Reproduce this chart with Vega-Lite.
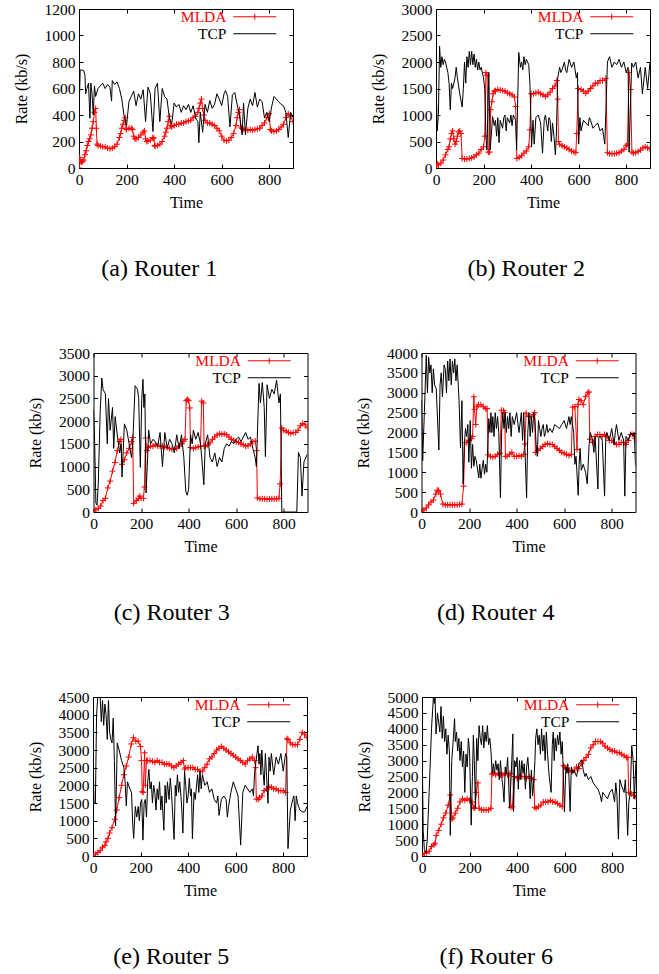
{
"$schema": "https://vega.github.io/schema/vega-lite/v6.json",
"padding": {"left": 12, "top": 1, "right": 0, "bottom": 0},
"background": "white",
"config": {
  "view": {"stroke": "black", "strokeWidth": 1},
  "font": "Liberation Serif",
  "numberFormat": "d",
  "axis": {"labelFont": "Liberation Serif", "labelFontSize": 15.5, "labelColor": "black", "titleFont": "Liberation Serif", "titleFontSize": 16, "titleFontWeight": "normal", "titleColor": "black", "tickColor": "black", "tickSize": -4, "tickWidth": 1, "domain": false, "grid": false, "labelPadding": 8, "labelFlush": false, "labelOverlap": false},
  "axisX": {"titlePadding": 7},
  "axisY": {"titlePadding": 15},
  "legend": {"orient": "none", "legendX": 168, "legendY": 0, "padding": 0, "symbolSize": 100, "symbolStrokeWidth": 1, "labelFont": "Liberation Serif", "labelFontSize": 15.5, "labelAlign": "right", "labelOffset": -36, "rowPadding": -1.5, "labelLimit": 200},
  "title": {"font": "Liberation Serif", "fontSize": 24, "fontWeight": "normal", "orient": "bottom", "frame": "bounds", "anchor": "middle", "offset": 46, "color": "black"}
},
"datasets": {
"aM": [{"t":0,"v":0},{"t":3,"v":80},{"t":5,"v":50},{"t":10,"v":45},{"t":15,"v":50},{"t":20,"v":60},{"t":25,"v":100},{"t":30,"v":130},{"t":35,"v":170},{"t":40,"v":200},{"t":45,"v":220},{"t":50,"v":250},{"t":55,"v":300},{"t":60,"v":350},{"t":65,"v":420},{"t":70,"v":450},{"t":73,"v":300},{"t":76,"v":180},{"t":80,"v":170},{"t":90,"v":165},{"t":100,"v":160},{"t":110,"v":160},{"t":120,"v":150},{"t":130,"v":145},{"t":140,"v":150},{"t":150,"v":160},{"t":160,"v":180},{"t":170,"v":230},{"t":175,"v":260},{"t":180,"v":300},{"t":185,"v":330},{"t":190,"v":360},{"t":195,"v":380},{"t":198,"v":300},{"t":200,"v":290},{"t":210,"v":300},{"t":220,"v":300},{"t":225,"v":290},{"t":230,"v":240},{"t":235,"v":220},{"t":240,"v":220},{"t":250,"v":230},{"t":260,"v":250},{"t":270,"v":270},{"t":275,"v":280},{"t":280,"v":220},{"t":285,"v":200},{"t":290,"v":205},{"t":300,"v":210},{"t":310,"v":230},{"t":315,"v":225},{"t":318,"v":170},{"t":320,"v":165},{"t":330,"v":170},{"t":340,"v":180},{"t":350,"v":200},{"t":360,"v":240},{"t":365,"v":270},{"t":370,"v":300},{"t":375,"v":350},{"t":380,"v":390},{"t":385,"v":320},{"t":390,"v":310},{"t":400,"v":320},{"t":410,"v":330},{"t":420,"v":330},{"t":430,"v":340},{"t":440,"v":340},{"t":450,"v":350},{"t":460,"v":355},{"t":470,"v":360},{"t":480,"v":380},{"t":490,"v":390},{"t":500,"v":420},{"t":505,"v":450},{"t":510,"v":490},{"t":515,"v":520},{"t":520,"v":450},{"t":525,"v":400},{"t":530,"v":360},{"t":540,"v":340},{"t":550,"v":340},{"t":560,"v":330},{"t":570,"v":320},{"t":580,"v":300},{"t":590,"v":280},{"t":600,"v":240},{"t":610,"v":210},{"t":620,"v":205},{"t":630,"v":210},{"t":640,"v":230},{"t":650,"v":260},{"t":660,"v":320},{"t":665,"v":380},{"t":670,"v":420},{"t":675,"v":440},{"t":680,"v":310},{"t":685,"v":300},{"t":690,"v":290},{"t":700,"v":285},{"t":710,"v":285},{"t":720,"v":290},{"t":730,"v":285},{"t":740,"v":290},{"t":750,"v":295},{"t":760,"v":300},{"t":770,"v":320},{"t":780,"v":340},{"t":790,"v":380},{"t":800,"v":410},{"t":805,"v":290},{"t":810,"v":280},{"t":820,"v":275},{"t":830,"v":280},{"t":840,"v":290},{"t":850,"v":310},{"t":860,"v":330},{"t":870,"v":380},{"t":880,"v":410},{"t":890,"v":390},{"t":900,"v":350}],
"aT": [{"t":0,"v":400},{"t":5,"v":740},{"t":10,"v":740},{"t":20,"v":735},{"t":25,"v":700},{"t":28,"v":560},{"t":33,"v":600},{"t":40,"v":640},{"t":46,"v":375},{"t":50,"v":640},{"t":55,"v":560},{"t":60,"v":400},{"t":65,"v":620},{"t":70,"v":540},{"t":80,"v":600},{"t":90,"v":620},{"t":100,"v":640},{"t":110,"v":600},{"t":120,"v":630},{"t":130,"v":610},{"t":137,"v":505},{"t":140,"v":660},{"t":150,"v":630},{"t":160,"v":650},{"t":170,"v":600},{"t":180,"v":520},{"t":189,"v":400},{"t":200,"v":320},{"t":210,"v":500},{"t":220,"v":540},{"t":230,"v":580},{"t":240,"v":470},{"t":250,"v":560},{"t":260,"v":520},{"t":270,"v":590},{"t":280,"v":350},{"t":290,"v":610},{"t":300,"v":560},{"t":311,"v":275},{"t":320,"v":600},{"t":330,"v":640},{"t":340,"v":350},{"t":350,"v":600},{"t":360,"v":540},{"t":370,"v":520},{"t":380,"v":380},{"t":390,"v":330},{"t":400,"v":490},{"t":410,"v":460},{"t":420,"v":480},{"t":430,"v":420},{"t":440,"v":470},{"t":450,"v":440},{"t":460,"v":480},{"t":470,"v":420},{"t":480,"v":470},{"t":490,"v":380},{"t":500,"v":350},{"t":504,"v":190},{"t":510,"v":420},{"t":520,"v":270},{"t":530,"v":480},{"t":540,"v":420},{"t":550,"v":510},{"t":560,"v":450},{"t":570,"v":480},{"t":580,"v":560},{"t":590,"v":520},{"t":600,"v":470},{"t":610,"v":560},{"t":616,"v":585},{"t":625,"v":540},{"t":635,"v":310},{"t":645,"v":550},{"t":655,"v":570},{"t":665,"v":480},{"t":675,"v":400},{"t":686,"v":250},{"t":692,"v":490},{"t":700,"v":250},{"t":710,"v":450},{"t":720,"v":520},{"t":730,"v":470},{"t":740,"v":570},{"t":750,"v":460},{"t":760,"v":520},{"t":770,"v":500},{"t":780,"v":380},{"t":790,"v":420},{"t":800,"v":350},{"t":810,"v":460},{"t":820,"v":540},{"t":830,"v":520},{"t":840,"v":500},{"t":850,"v":480},{"t":860,"v":470},{"t":870,"v":420},{"t":880,"v":230},{"t":890,"v":420},{"t":900,"v":380}],
"bM": [{"t":0,"v":0},{"t":5,"v":80},{"t":10,"v":60},{"t":20,"v":90},{"t":30,"v":150},{"t":40,"v":250},{"t":50,"v":350},{"t":55,"v":400},{"t":60,"v":550},{"t":65,"v":650},{"t":70,"v":700},{"t":75,"v":550},{"t":80,"v":450},{"t":85,"v":500},{"t":90,"v":600},{"t":95,"v":680},{"t":100,"v":700},{"t":105,"v":650},{"t":110,"v":180},{"t":120,"v":170},{"t":130,"v":170},{"t":140,"v":180},{"t":150,"v":190},{"t":160,"v":210},{"t":170,"v":250},{"t":180,"v":280},{"t":190,"v":350},{"t":200,"v":400},{"t":205,"v":600},{"t":210,"v":1800},{"t":215,"v":1750},{"t":220,"v":300},{"t":225,"v":300},{"t":230,"v":1100},{"t":235,"v":1250},{"t":240,"v":1400},{"t":245,"v":1450},{"t":250,"v":1460},{"t":260,"v":1480},{"t":270,"v":1470},{"t":280,"v":1460},{"t":290,"v":1450},{"t":300,"v":1420},{"t":310,"v":1400},{"t":320,"v":1380},{"t":330,"v":1340},{"t":335,"v":1160},{"t":340,"v":180},{"t":350,"v":200},{"t":360,"v":230},{"t":370,"v":280},{"t":380,"v":320},{"t":390,"v":400},{"t":395,"v":720},{"t":400,"v":1400},{"t":410,"v":1400},{"t":420,"v":1420},{"t":430,"v":1430},{"t":440,"v":1400},{"t":450,"v":1380},{"t":460,"v":1350},{"t":470,"v":1380},{"t":480,"v":1430},{"t":490,"v":1500},{"t":500,"v":1550},{"t":508,"v":1650},{"t":512,"v":1300},{"t":515,"v":500},{"t":520,"v":450},{"t":530,"v":420},{"t":540,"v":400},{"t":550,"v":380},{"t":560,"v":350},{"t":570,"v":320},{"t":580,"v":300},{"t":588,"v":290},{"t":592,"v":650},{"t":598,"v":1500},{"t":610,"v":1480},{"t":620,"v":1450},{"t":630,"v":1410},{"t":640,"v":1450},{"t":650,"v":1500},{"t":660,"v":1550},{"t":670,"v":1600},{"t":680,"v":1600},{"t":690,"v":1650},{"t":700,"v":1650},{"t":714,"v":1690},{"t":721,"v":290},{"t":730,"v":270},{"t":740,"v":270},{"t":750,"v":270},{"t":760,"v":280},{"t":770,"v":290},{"t":780,"v":320},{"t":790,"v":350},{"t":800,"v":420},{"t":805,"v":450},{"t":812,"v":1800},{"t":818,"v":1480},{"t":824,"v":300},{"t":830,"v":280},{"t":840,"v":290},{"t":850,"v":310},{"t":860,"v":340},{"t":870,"v":380},{"t":880,"v":400},{"t":890,"v":380},{"t":900,"v":360}],
"bT": [{"t":0,"v":1700},{"t":5,"v":700},{"t":10,"v":1000},{"t":15,"v":2300},{"t":20,"v":1900},{"t":25,"v":2100},{"t":30,"v":1950},{"t":35,"v":2050},{"t":40,"v":2000},{"t":45,"v":1900},{"t":50,"v":1800},{"t":55,"v":1600},{"t":60,"v":1100},{"t":65,"v":1600},{"t":70,"v":1500},{"t":80,"v":1700},{"t":85,"v":1900},{"t":90,"v":1700},{"t":100,"v":1400},{"t":110,"v":1150},{"t":115,"v":1500},{"t":120,"v":2000},{"t":125,"v":1600},{"t":130,"v":2100},{"t":135,"v":1900},{"t":140,"v":2200},{"t":145,"v":1950},{"t":150,"v":2200},{"t":155,"v":1950},{"t":160,"v":2150},{"t":165,"v":1900},{"t":170,"v":2050},{"t":175,"v":1850},{"t":180,"v":2000},{"t":185,"v":1850},{"t":190,"v":1900},{"t":200,"v":1700},{"t":205,"v":1500},{"t":210,"v":600},{"t":214,"v":340},{"t":218,"v":1000},{"t":222,"v":1800},{"t":228,"v":340},{"t":238,"v":970},{"t":245,"v":800},{"t":250,"v":900},{"t":255,"v":600},{"t":260,"v":950},{"t":265,"v":480},{"t":270,"v":900},{"t":280,"v":750},{"t":285,"v":950},{"t":290,"v":1000},{"t":295,"v":700},{"t":300,"v":950},{"t":310,"v":850},{"t":315,"v":1000},{"t":320,"v":800},{"t":325,"v":1000},{"t":330,"v":950},{"t":335,"v":900},{"t":339,"v":340},{"t":348,"v":2180},{"t":355,"v":1900},{"t":360,"v":2000},{"t":365,"v":1850},{"t":370,"v":2100},{"t":375,"v":1950},{"t":380,"v":2050},{"t":390,"v":1950},{"t":395,"v":1600},{"t":402,"v":400},{"t":408,"v":900},{"t":413,"v":450},{"t":420,"v":950},{"t":430,"v":1000},{"t":440,"v":850},{"t":448,"v":280},{"t":455,"v":900},{"t":460,"v":1000},{"t":470,"v":700},{"t":475,"v":950},{"t":480,"v":900},{"t":485,"v":500},{"t":490,"v":850},{"t":496,"v":600},{"t":502,"v":250},{"t":506,"v":600},{"t":512,"v":1700},{"t":520,"v":1900},{"t":525,"v":1800},{"t":530,"v":1850},{"t":540,"v":2000},{"t":545,"v":1850},{"t":550,"v":1800},{"t":560,"v":2050},{"t":570,"v":1900},{"t":580,"v":2000},{"t":585,"v":1850},{"t":590,"v":1700},{"t":595,"v":1800},{"t":600,"v":450},{"t":605,"v":950},{"t":610,"v":700},{"t":620,"v":900},{"t":630,"v":850},{"t":640,"v":800},{"t":645,"v":950},{"t":650,"v":900},{"t":660,"v":750},{"t":670,"v":800},{"t":680,"v":850},{"t":690,"v":700},{"t":700,"v":750},{"t":710,"v":450},{"t":721,"v":2000},{"t":730,"v":2100},{"t":740,"v":1900},{"t":750,"v":2000},{"t":760,"v":1950},{"t":770,"v":2050},{"t":780,"v":1900},{"t":790,"v":2000},{"t":800,"v":1800},{"t":808,"v":1900},{"t":812,"v":300},{"t":823,"v":1980},{"t":830,"v":1900},{"t":840,"v":2000},{"t":850,"v":1700},{"t":860,"v":1900},{"t":868,"v":1400},{"t":880,"v":1900},{"t":890,"v":1500},{"t":900,"v":2000}],
"cM": [{"t":0,"v":0},{"t":10,"v":50},{"t":20,"v":80},{"t":30,"v":130},{"t":40,"v":250},{"t":50,"v":300},{"t":60,"v":530},{"t":70,"v":680},{"t":80,"v":900},{"t":90,"v":1090},{"t":100,"v":1350},{"t":110,"v":1550},{"t":115,"v":1600},{"t":120,"v":1050},{"t":130,"v":1150},{"t":140,"v":1300},{"t":150,"v":1400},{"t":160,"v":1550},{"t":165,"v":1640},{"t":169,"v":190},{"t":180,"v":250},{"t":190,"v":300},{"t":195,"v":350},{"t":200,"v":300},{"t":210,"v":300},{"t":214,"v":550},{"t":219,"v":1630},{"t":225,"v":1350},{"t":230,"v":1420},{"t":240,"v":1450},{"t":250,"v":1450},{"t":260,"v":1480},{"t":270,"v":1450},{"t":280,"v":1450},{"t":290,"v":1450},{"t":300,"v":1430},{"t":310,"v":1420},{"t":320,"v":1400},{"t":330,"v":1380},{"t":340,"v":1380},{"t":350,"v":1400},{"t":360,"v":1450},{"t":370,"v":1500},{"t":380,"v":1560},{"t":385,"v":1600},{"t":390,"v":2450},{"t":395,"v":2480},{"t":400,"v":2450},{"t":405,"v":2290},{"t":408,"v":1420},{"t":420,"v":1400},{"t":430,"v":1420},{"t":440,"v":1430},{"t":450,"v":1450},{"t":455,"v":2440},{"t":462,"v":2400},{"t":465,"v":1450},{"t":470,"v":1450},{"t":480,"v":1480},{"t":490,"v":1520},{"t":500,"v":1600},{"t":510,"v":1650},{"t":520,"v":1700},{"t":530,"v":1720},{"t":540,"v":1710},{"t":550,"v":1720},{"t":560,"v":1700},{"t":570,"v":1650},{"t":580,"v":1600},{"t":590,"v":1580},{"t":600,"v":1550},{"t":610,"v":1530},{"t":620,"v":1500},{"t":630,"v":1480},{"t":640,"v":1450},{"t":650,"v":1460},{"t":660,"v":1500},{"t":670,"v":1550},{"t":680,"v":1560},{"t":686,"v":1350},{"t":689,"v":310},{"t":700,"v":290},{"t":710,"v":290},{"t":720,"v":290},{"t":730,"v":280},{"t":740,"v":290},{"t":750,"v":290},{"t":760,"v":290},{"t":770,"v":290},{"t":780,"v":300},{"t":785,"v":620},{"t":792,"v":1850},{"t":800,"v":1800},{"t":810,"v":1780},{"t":820,"v":1750},{"t":830,"v":1730},{"t":840,"v":1750},{"t":850,"v":1750},{"t":860,"v":1800},{"t":870,"v":1900},{"t":880,"v":1950},{"t":890,"v":1920},{"t":900,"v":1850}],
"cT": [{"t":0,"v":2250},{"t":5,"v":1500},{"t":10,"v":200},{"t":15,"v":150},{"t":20,"v":600},{"t":28,"v":2200},{"t":35,"v":2950},{"t":40,"v":2700},{"t":50,"v":2600},{"t":58,"v":1500},{"t":63,"v":2500},{"t":70,"v":1800},{"t":80,"v":2300},{"t":85,"v":1400},{"t":91,"v":2100},{"t":100,"v":1700},{"t":110,"v":1300},{"t":116,"v":1500},{"t":120,"v":770},{"t":130,"v":1940},{"t":140,"v":1800},{"t":150,"v":1500},{"t":160,"v":1200},{"t":165,"v":1500},{"t":175,"v":2780},{"t":185,"v":2700},{"t":190,"v":2500},{"t":197,"v":980},{"t":203,"v":2500},{"t":208,"v":2920},{"t":212,"v":2300},{"t":216,"v":2600},{"t":221,"v":420},{"t":226,"v":1000},{"t":232,"v":1800},{"t":240,"v":1500},{"t":250,"v":1600},{"t":260,"v":1550},{"t":270,"v":1450},{"t":280,"v":1750},{"t":290,"v":1000},{"t":300,"v":1750},{"t":310,"v":1400},{"t":320,"v":1600},{"t":330,"v":1500},{"t":340,"v":1300},{"t":350,"v":1700},{"t":360,"v":1400},{"t":370,"v":1700},{"t":380,"v":1200},{"t":388,"v":460},{"t":394,"v":370},{"t":400,"v":500},{"t":408,"v":1700},{"t":415,"v":1500},{"t":420,"v":1800},{"t":430,"v":1600},{"t":440,"v":1750},{"t":450,"v":1500},{"t":455,"v":1200},{"t":464,"v":600},{"t":470,"v":1500},{"t":480,"v":1700},{"t":490,"v":1200},{"t":500,"v":1100},{"t":510,"v":1300},{"t":520,"v":1000},{"t":530,"v":1200},{"t":540,"v":1100},{"t":550,"v":1400},{"t":560,"v":1500},{"t":570,"v":1450},{"t":580,"v":1550},{"t":590,"v":1500},{"t":600,"v":1600},{"t":610,"v":1650},{"t":620,"v":1550},{"t":630,"v":1650},{"t":640,"v":1750},{"t":650,"v":1600},{"t":660,"v":1650},{"t":670,"v":1400},{"t":680,"v":1200},{"t":685,"v":1000},{"t":696,"v":2830},{"t":702,"v":2400},{"t":710,"v":2850},{"t":718,"v":2300},{"t":723,"v":1220},{"t":730,"v":2800},{"t":740,"v":2500},{"t":750,"v":2700},{"t":760,"v":2600},{"t":770,"v":2900},{"t":780,"v":2400},{"t":786,"v":2600},{"t":792,"v":0},{"t":800,"v":0},{"t":850,"v":0},{"t":855,"v":0},{"t":862,"v":1310},{"t":870,"v":1200},{"t":877,"v":350},{"t":885,"v":1100},{"t":900,"v":1280}],
"dM": [{"t":0,"v":0},{"t":10,"v":50},{"t":20,"v":100},{"t":30,"v":180},{"t":40,"v":250},{"t":50,"v":300},{"t":60,"v":450},{"t":66,"v":550},{"t":72,"v":540},{"t":80,"v":450},{"t":90,"v":200},{"t":100,"v":180},{"t":110,"v":180},{"t":120,"v":180},{"t":130,"v":180},{"t":140,"v":180},{"t":150,"v":180},{"t":160,"v":190},{"t":170,"v":200},{"t":177,"v":650},{"t":182,"v":1750},{"t":190,"v":1750},{"t":200,"v":1800},{"t":210,"v":1850},{"t":215,"v":1900},{"t":220,"v":2900},{"t":223,"v":2580},{"t":228,"v":2200},{"t":233,"v":2650},{"t":240,"v":2700},{"t":250,"v":2700},{"t":260,"v":2650},{"t":270,"v":2600},{"t":276,"v":2600},{"t":280,"v":1440},{"t":290,"v":1400},{"t":300,"v":1380},{"t":310,"v":1400},{"t":320,"v":1450},{"t":330,"v":1480},{"t":336,"v":2560},{"t":345,"v":2550},{"t":350,"v":2500},{"t":353,"v":1400},{"t":360,"v":1400},{"t":370,"v":1450},{"t":380,"v":1500},{"t":390,"v":1400},{"t":400,"v":1400},{"t":410,"v":1420},{"t":420,"v":1400},{"t":430,"v":1450},{"t":435,"v":1710},{"t":440,"v":2490},{"t":450,"v":2400},{"t":460,"v":2400},{"t":470,"v":2450},{"t":476,"v":2500},{"t":479,"v":1500},{"t":490,"v":1550},{"t":500,"v":1600},{"t":510,"v":1650},{"t":520,"v":1700},{"t":530,"v":1720},{"t":540,"v":1700},{"t":550,"v":1700},{"t":560,"v":1650},{"t":570,"v":1600},{"t":580,"v":1550},{"t":590,"v":1500},{"t":600,"v":1480},{"t":610,"v":1450},{"t":620,"v":1420},{"t":630,"v":1450},{"t":636,"v":2640},{"t":645,"v":2650},{"t":654,"v":1570},{"t":658,"v":2700},{"t":662,"v":2830},{"t":670,"v":2800},{"t":680,"v":2700},{"t":690,"v":2900},{"t":700,"v":3000},{"t":704,"v":3020},{"t":708,"v":1830},{"t":720,"v":1750},{"t":730,"v":1900},{"t":740,"v":1950},{"t":750,"v":1950},{"t":760,"v":1900},{"t":770,"v":1950},{"t":780,"v":1900},{"t":790,"v":1800},{"t":800,"v":1800},{"t":810,"v":1750},{"t":820,"v":1700},{"t":830,"v":1700},{"t":840,"v":1750},{"t":850,"v":1750},{"t":860,"v":1700},{"t":870,"v":1800},{"t":880,"v":1950},{"t":890,"v":1950},{"t":900,"v":1850}],
"dT": [{"t":0,"v":2810},{"t":5,"v":1290},{"t":12,"v":2500},{"t":20,"v":3940},{"t":25,"v":3000},{"t":30,"v":3900},{"t":35,"v":3500},{"t":40,"v":3700},{"t":45,"v":3000},{"t":50,"v":3600},{"t":55,"v":3200},{"t":62,"v":3100},{"t":73,"v":1560},{"t":78,"v":3200},{"t":83,"v":3500},{"t":88,"v":2900},{"t":95,"v":3700},{"t":100,"v":3600},{"t":105,"v":3000},{"t":110,"v":3800},{"t":115,"v":3300},{"t":120,"v":3850},{"t":125,"v":3200},{"t":130,"v":3800},{"t":135,"v":3500},{"t":140,"v":3850},{"t":145,"v":3300},{"t":150,"v":3700},{"t":158,"v":2800},{"t":164,"v":1610},{"t":170,"v":2800},{"t":175,"v":700},{"t":180,"v":1700},{"t":185,"v":2100},{"t":190,"v":1900},{"t":195,"v":2200},{"t":199,"v":1250},{"t":205,"v":2300},{"t":210,"v":1100},{"t":215,"v":1700},{"t":220,"v":1150},{"t":225,"v":1400},{"t":230,"v":1300},{"t":241,"v":860},{"t":245,"v":1200},{"t":250,"v":850},{"t":255,"v":1100},{"t":260,"v":1300},{"t":265,"v":950},{"t":270,"v":1200},{"t":275,"v":1000},{"t":283,"v":2350},{"t":288,"v":2000},{"t":292,"v":2500},{"t":296,"v":2000},{"t":300,"v":2400},{"t":305,"v":1900},{"t":310,"v":2500},{"t":315,"v":2100},{"t":320,"v":2400},{"t":325,"v":2000},{"t":332,"v":360},{"t":337,"v":2000},{"t":342,"v":2500},{"t":347,"v":2100},{"t":352,"v":2500},{"t":357,"v":2000},{"t":362,"v":2400},{"t":367,"v":2100},{"t":372,"v":2500},{"t":377,"v":1900},{"t":382,"v":2400},{"t":390,"v":2200},{"t":400,"v":2500},{"t":410,"v":2000},{"t":420,"v":2500},{"t":425,"v":1800},{"t":430,"v":2500},{"t":435,"v":1600},{"t":442,"v":360},{"t":447,"v":2000},{"t":452,"v":2500},{"t":457,"v":1900},{"t":462,"v":2400},{"t":467,"v":2000},{"t":472,"v":2500},{"t":477,"v":2300},{"t":482,"v":1700},{"t":487,"v":1400},{"t":492,"v":2300},{"t":497,"v":2100},{"t":502,"v":1900},{"t":507,"v":2100},{"t":512,"v":2200},{"t":517,"v":1900},{"t":522,"v":2000},{"t":527,"v":2200},{"t":532,"v":2000},{"t":540,"v":2100},{"t":550,"v":2000},{"t":560,"v":2200},{"t":570,"v":2150},{"t":580,"v":2100},{"t":590,"v":2200},{"t":600,"v":2300},{"t":610,"v":2100},{"t":620,"v":2400},{"t":625,"v":2200},{"t":630,"v":2400},{"t":640,"v":2000},{"t":645,"v":1200},{"t":650,"v":1400},{"t":659,"v":420},{"t":663,"v":1200},{"t":667,"v":1600},{"t":672,"v":1050},{"t":680,"v":1200},{"t":685,"v":1100},{"t":690,"v":1000},{"t":697,"v":710},{"t":705,"v":1700},{"t":710,"v":2000},{"t":720,"v":1800},{"t":725,"v":1500},{"t":730,"v":1900},{"t":742,"v":580},{"t":746,"v":1900},{"t":752,"v":1900},{"t":760,"v":1800},{"t":770,"v":400},{"t":775,"v":1900},{"t":780,"v":2000},{"t":790,"v":1800},{"t":800,"v":2100},{"t":810,"v":1700},{"t":815,"v":2000},{"t":820,"v":2200},{"t":830,"v":1800},{"t":840,"v":2000},{"t":850,"v":1800},{"t":855,"v":400},{"t":860,"v":1900},{"t":870,"v":1800},{"t":880,"v":2000},{"t":890,"v":1900},{"t":895,"v":2000},{"t":900,"v":1160}],
"eM": [{"t":0,"v":0},{"t":10,"v":50},{"t":20,"v":100},{"t":30,"v":150},{"t":40,"v":250},{"t":50,"v":300},{"t":55,"v":400},{"t":63,"v":500},{"t":70,"v":650},{"t":80,"v":800},{"t":91,"v":1040},{"t":100,"v":1300},{"t":110,"v":1650},{"t":120,"v":2000},{"t":130,"v":2300},{"t":140,"v":2550},{"t":150,"v":2800},{"t":161,"v":3170},{"t":170,"v":3350},{"t":180,"v":3250},{"t":190,"v":3250},{"t":200,"v":3100},{"t":204,"v":2700},{"t":207,"v":1820},{"t":211,"v":1800},{"t":217,"v":2920},{"t":220,"v":2000},{"t":225,"v":2700},{"t":230,"v":2700},{"t":240,"v":2700},{"t":250,"v":2680},{"t":260,"v":2650},{"t":270,"v":2700},{"t":280,"v":2650},{"t":290,"v":2650},{"t":300,"v":2600},{"t":310,"v":2600},{"t":320,"v":2600},{"t":330,"v":2550},{"t":340,"v":2500},{"t":350,"v":2550},{"t":360,"v":2600},{"t":370,"v":2650},{"t":380,"v":2700},{"t":385,"v":2460},{"t":390,"v":2500},{"t":400,"v":2500},{"t":410,"v":2500},{"t":420,"v":2500},{"t":430,"v":2450},{"t":440,"v":2450},{"t":450,"v":2400},{"t":460,"v":2400},{"t":470,"v":2500},{"t":480,"v":2600},{"t":490,"v":2750},{"t":500,"v":2800},{"t":510,"v":2900},{"t":520,"v":3000},{"t":530,"v":3050},{"t":540,"v":3100},{"t":550,"v":3050},{"t":560,"v":3000},{"t":570,"v":2950},{"t":580,"v":2900},{"t":590,"v":2850},{"t":600,"v":2800},{"t":610,"v":2750},{"t":620,"v":2700},{"t":630,"v":2650},{"t":640,"v":2600},{"t":650,"v":2700},{"t":660,"v":2750},{"t":670,"v":2800},{"t":680,"v":2700},{"t":684,"v":2500},{"t":687,"v":1610},{"t":695,"v":1600},{"t":700,"v":1650},{"t":710,"v":1700},{"t":720,"v":1850},{"t":730,"v":1900},{"t":740,"v":1950},{"t":750,"v":1950},{"t":760,"v":1900},{"t":770,"v":1900},{"t":780,"v":1850},{"t":790,"v":1850},{"t":800,"v":1850},{"t":810,"v":1800},{"t":816,"v":3320},{"t":820,"v":3300},{"t":830,"v":3200},{"t":840,"v":3150},{"t":850,"v":3150},{"t":860,"v":3150},{"t":870,"v":3300},{"t":880,"v":3500},{"t":890,"v":3450},{"t":900,"v":3350}],
"eT": [{"t":0,"v":3300},{"t":4,"v":1500},{"t":10,"v":1500},{"t":15,"v":4000},{"t":20,"v":4500},{"t":30,"v":4500},{"t":35,"v":3800},{"t":40,"v":4400},{"t":45,"v":3700},{"t":50,"v":4300},{"t":55,"v":4000},{"t":60,"v":3300},{"t":65,"v":4400},{"t":70,"v":3500},{"t":75,"v":3300},{"t":80,"v":3200},{"t":85,"v":3900},{"t":90,"v":2700},{"t":95,"v":850},{"t":102,"v":3200},{"t":110,"v":3000},{"t":120,"v":2700},{"t":130,"v":2500},{"t":135,"v":2100},{"t":140,"v":1420},{"t":145,"v":2100},{"t":155,"v":1900},{"t":162,"v":1800},{"t":167,"v":900},{"t":171,"v":500},{"t":178,"v":1400},{"t":184,"v":1100},{"t":190,"v":1400},{"t":195,"v":1000},{"t":200,"v":1500},{"t":205,"v":1600},{"t":210,"v":450},{"t":215,"v":1500},{"t":220,"v":1600},{"t":225,"v":1100},{"t":230,"v":2100},{"t":235,"v":2450},{"t":240,"v":1900},{"t":245,"v":2100},{"t":250,"v":1500},{"t":255,"v":2000},{"t":260,"v":1800},{"t":265,"v":1300},{"t":270,"v":1900},{"t":275,"v":1600},{"t":280,"v":2100},{"t":285,"v":1300},{"t":290,"v":1700},{"t":298,"v":730},{"t":303,"v":2000},{"t":308,"v":1500},{"t":313,"v":2100},{"t":320,"v":1600},{"t":325,"v":2200},{"t":330,"v":1800},{"t":341,"v":470},{"t":346,"v":2000},{"t":350,"v":1700},{"t":355,"v":2300},{"t":360,"v":1800},{"t":365,"v":2100},{"t":372,"v":1500},{"t":378,"v":650},{"t":385,"v":2400},{"t":390,"v":2000},{"t":395,"v":1500},{"t":400,"v":1700},{"t":405,"v":2200},{"t":410,"v":1700},{"t":414,"v":1900},{"t":418,"v":490},{"t":425,"v":1800},{"t":430,"v":1600},{"t":440,"v":2300},{"t":445,"v":1800},{"t":450,"v":2400},{"t":455,"v":1900},{"t":460,"v":2300},{"t":470,"v":2000},{"t":480,"v":2100},{"t":490,"v":1800},{"t":500,"v":1900},{"t":510,"v":1600},{"t":520,"v":1500},{"t":525,"v":1700},{"t":530,"v":1150},{"t":540,"v":1600},{"t":550,"v":1700},{"t":560,"v":1600},{"t":565,"v":1100},{"t":570,"v":1400},{"t":580,"v":1800},{"t":590,"v":2100},{"t":600,"v":1900},{"t":610,"v":1700},{"t":621,"v":310},{"t":630,"v":1800},{"t":640,"v":2000},{"t":650,"v":1900},{"t":660,"v":1800},{"t":670,"v":1900},{"t":675,"v":1700},{"t":680,"v":2400},{"t":694,"v":3120},{"t":698,"v":2600},{"t":702,"v":2900},{"t":706,"v":2300},{"t":710,"v":3000},{"t":715,"v":2400},{"t":720,"v":2000},{"t":725,"v":2900},{"t":736,"v":1490},{"t":740,"v":2800},{"t":745,"v":2400},{"t":750,"v":2900},{"t":760,"v":2300},{"t":770,"v":2800},{"t":780,"v":2600},{"t":790,"v":2900},{"t":800,"v":2400},{"t":810,"v":2900},{"t":815,"v":2800},{"t":820,"v":210},{"t":830,"v":1300},{"t":840,"v":1600},{"t":845,"v":1700},{"t":850,"v":1000},{"t":855,"v":1700},{"t":860,"v":1500},{"t":870,"v":1300},{"t":880,"v":1250},{"t":890,"v":1250},{"t":900,"v":1400}],
"fM": [{"t":0,"v":0},{"t":10,"v":80},{"t":20,"v":100},{"t":30,"v":150},{"t":40,"v":300},{"t":50,"v":350},{"t":55,"v":400},{"t":60,"v":650},{"t":70,"v":800},{"t":81,"v":1000},{"t":90,"v":1200},{"t":100,"v":1350},{"t":110,"v":1600},{"t":119,"v":1920},{"t":126,"v":1160},{"t":130,"v":1200},{"t":140,"v":1350},{"t":150,"v":1500},{"t":160,"v":1700},{"t":170,"v":1800},{"t":180,"v":1750},{"t":190,"v":1800},{"t":200,"v":1750},{"t":210,"v":1700},{"t":217,"v":1530},{"t":222,"v":1500},{"t":228,"v":2000},{"t":235,"v":2300},{"t":240,"v":1500},{"t":250,"v":1450},{"t":260,"v":1450},{"t":270,"v":1450},{"t":280,"v":1450},{"t":290,"v":1500},{"t":294,"v":2580},{"t":300,"v":2600},{"t":310,"v":2550},{"t":320,"v":2600},{"t":330,"v":2550},{"t":340,"v":2550},{"t":350,"v":2600},{"t":360,"v":2550},{"t":370,"v":2600},{"t":374,"v":1530},{"t":380,"v":1550},{"t":389,"v":2500},{"t":400,"v":2450},{"t":410,"v":2500},{"t":420,"v":2500},{"t":430,"v":2500},{"t":440,"v":2450},{"t":450,"v":2500},{"t":460,"v":2450},{"t":470,"v":2400},{"t":474,"v":1530},{"t":480,"v":1500},{"t":490,"v":1550},{"t":500,"v":1600},{"t":510,"v":1700},{"t":520,"v":1700},{"t":530,"v":1700},{"t":540,"v":1750},{"t":550,"v":1700},{"t":560,"v":1700},{"t":570,"v":1650},{"t":580,"v":1600},{"t":590,"v":1550},{"t":595,"v":2840},{"t":600,"v":2800},{"t":610,"v":2750},{"t":620,"v":2700},{"t":630,"v":2650},{"t":640,"v":2700},{"t":650,"v":2800},{"t":660,"v":2750},{"t":670,"v":2900},{"t":680,"v":3000},{"t":690,"v":3100},{"t":700,"v":3200},{"t":710,"v":3400},{"t":720,"v":3500},{"t":730,"v":3600},{"t":740,"v":3600},{"t":750,"v":3600},{"t":760,"v":3550},{"t":770,"v":3450},{"t":780,"v":3400},{"t":790,"v":3350},{"t":800,"v":3300},{"t":810,"v":3300},{"t":820,"v":3250},{"t":830,"v":3250},{"t":840,"v":3200},{"t":850,"v":3150},{"t":860,"v":3100},{"t":866,"v":3100},{"t":869,"v":2000},{"t":880,"v":1950},{"t":890,"v":1900},{"t":900,"v":1850}],
"fT": [{"t":0,"v":3800},{"t":5,"v":800},{"t":10,"v":200},{"t":17,"v":100},{"t":22,"v":500},{"t":30,"v":2000},{"t":40,"v":4000},{"t":48,"v":5000},{"t":52,"v":4800},{"t":55,"v":5000},{"t":59,"v":3840},{"t":65,"v":4500},{"t":70,"v":4200},{"t":75,"v":3900},{"t":80,"v":4700},{"t":85,"v":3700},{"t":90,"v":4400},{"t":95,"v":3600},{"t":100,"v":4000},{"t":105,"v":3200},{"t":110,"v":3800},{"t":115,"v":3300},{"t":119,"v":650},{"t":125,"v":3000},{"t":130,"v":3500},{"t":137,"v":4320},{"t":140,"v":3600},{"t":145,"v":3900},{"t":150,"v":3300},{"t":155,"v":3700},{"t":160,"v":3000},{"t":165,"v":3600},{"t":170,"v":2800},{"t":175,"v":3300},{"t":180,"v":2000},{"t":185,"v":3200},{"t":190,"v":2800},{"t":195,"v":3700},{"t":200,"v":3300},{"t":207,"v":970},{"t":212,"v":2500},{"t":216,"v":3800},{"t":220,"v":3000},{"t":225,"v":1500},{"t":230,"v":3700},{"t":235,"v":3000},{"t":240,"v":4100},{"t":245,"v":3700},{"t":250,"v":3500},{"t":255,"v":4100},{"t":260,"v":3400},{"t":265,"v":3900},{"t":270,"v":3600},{"t":275,"v":4100},{"t":280,"v":3500},{"t":285,"v":3700},{"t":290,"v":3300},{"t":295,"v":2600},{"t":300,"v":2900},{"t":305,"v":2600},{"t":310,"v":3000},{"t":315,"v":2700},{"t":320,"v":2900},{"t":325,"v":2400},{"t":330,"v":3000},{"t":335,"v":2500},{"t":340,"v":2200},{"t":345,"v":1700},{"t":350,"v":2800},{"t":355,"v":2600},{"t":360,"v":3100},{"t":365,"v":2200},{"t":368,"v":1500},{"t":375,"v":2500},{"t":382,"v":3840},{"t":385,"v":1400},{"t":390,"v":3000},{"t":395,"v":2800},{"t":400,"v":3100},{"t":405,"v":2100},{"t":410,"v":3000},{"t":415,"v":2400},{"t":420,"v":3000},{"t":425,"v":2600},{"t":430,"v":2900},{"t":435,"v":2100},{"t":440,"v":2800},{"t":445,"v":3100},{"t":450,"v":2600},{"t":455,"v":1800},{"t":460,"v":2700},{"t":465,"v":1900},{"t":470,"v":2300},{"t":475,"v":3000},{"t":478,"v":3700},{"t":483,"v":4000},{"t":488,"v":3500},{"t":493,"v":3800},{"t":498,"v":3200},{"t":503,"v":4000},{"t":508,"v":3300},{"t":513,"v":3800},{"t":518,"v":3000},{"t":523,"v":3900},{"t":528,"v":3200},{"t":535,"v":2500},{"t":543,"v":2000},{"t":548,"v":3500},{"t":552,"v":3900},{"t":556,"v":3000},{"t":560,"v":3700},{"t":565,"v":3300},{"t":570,"v":3800},{"t":575,"v":3500},{"t":580,"v":3900},{"t":585,"v":3200},{"t":590,"v":3600},{"t":599,"v":1390},{"t":605,"v":2800},{"t":610,"v":2600},{"t":613,"v":2900},{"t":618,"v":2500},{"t":623,"v":1400},{"t":628,"v":2800},{"t":635,"v":2600},{"t":640,"v":2700},{"t":650,"v":2500},{"t":660,"v":2900},{"t":672,"v":3030},{"t":678,"v":2700},{"t":685,"v":2500},{"t":690,"v":2600},{"t":700,"v":2400},{"t":710,"v":2500},{"t":720,"v":2300},{"t":730,"v":2200},{"t":740,"v":2100},{"t":750,"v":1900},{"t":755,"v":1700},{"t":760,"v":2000},{"t":770,"v":1900},{"t":780,"v":1800},{"t":790,"v":2000},{"t":800,"v":2100},{"t":810,"v":1700},{"t":815,"v":2300},{"t":820,"v":1900},{"t":826,"v":530},{"t":832,"v":2400},{"t":840,"v":2200},{"t":850,"v":2000},{"t":855,"v":2400},{"t":860,"v":1700},{"t":865,"v":650},{"t":870,"v":1700},{"t":876,"v":2000},{"t":882,"v":3470},{"t":888,"v":3000},{"t":893,"v":1800},{"t":900,"v":3000}]
},
"vconcat": [
 {"hconcat": [
  {"width": 214, "height": 159, "title": {"text": "(a) Router 1", "dx": 6},
   "resolve": {"axis": {"x": "independent", "y": "independent"}},
   "layer": [
    {"data": {"name": "aM"}, "mark": {"type": "line", "strokeWidth": 1, "clip": true},
     "encoding": {"x": {"field": "t", "type": "quantitative", "scale": {"domain": [0, 900], "nice": false, "zero": false}, "axis": {"values": [0, 200, 400, 600, 800], "title": "Time"}},
      "y": {"field": "v", "type": "quantitative", "scale": {"domain": [0, 1200], "nice": false}, "axis": {"values": [0, 200, 400, 600, 800, 1000, 1200], "title": "Rate (kb/s)"}},
      "color": {"datum": "MLDA", "scale": {"domain": ["MLDA", "TCP"], "range": ["#ff0000", "#000000"]}, "legend": {"title": null, "encode": {"labels": {"update": {"fill": {"signal": "datum.value === 'MLDA' ? '#ff0000' : '#000000'"}}}, "symbols": {"update": {"shape": {"signal": "datum.value === 'MLDA' ? 'M-4.3,0H4.3M0,-0.6V0.6' : 'M-4.3,0H4.3'"}, "strokeWidth": {"value": 1}}}}}}}},
    {"data": {"name": "aM"}, "mark": {"type": "point", "shape": "M-1,0H1M0,-1V1", "size": 36, "filled": false, "strokeWidth": 1, "color": "#ff0000", "opacity": 1, "clip": true},
     "encoding": {"x": {"field": "t", "type": "quantitative", "axis": null}, "y": {"field": "v", "type": "quantitative", "axis": null}}},
    {"data": {"name": "aT"}, "mark": {"type": "line", "strokeWidth": 1, "clip": true},
     "encoding": {"x": {"field": "t", "type": "quantitative", "axis": {"orient": "top", "labels": false, "title": null, "values": [0, 200, 400, 600, 800]}},
      "y": {"field": "v", "type": "quantitative", "axis": {"orient": "right", "labels": false, "title": null, "values": [0, 200, 400, 600, 800, 1000, 1200]}},
      "color": {"datum": "TCP"}}}
   ]},
  {"width": 214, "height": 159, "title": {"text": "(b) Router 2", "dx": 16},
   "resolve": {"axis": {"x": "independent", "y": "independent"}},
   "layer": [
    {"data": {"name": "bM"}, "mark": {"type": "line", "strokeWidth": 1, "clip": true},
     "encoding": {"x": {"field": "t", "type": "quantitative", "scale": {"domain": [0, 900], "nice": false, "zero": false}, "axis": {"values": [0, 200, 400, 600, 800], "title": "Time"}},
      "y": {"field": "v", "type": "quantitative", "scale": {"domain": [0, 3000], "nice": false}, "axis": {"values": [0, 500, 1000, 1500, 2000, 2500, 3000], "title": "Rate (kb/s)"}},
      "color": {"datum": "MLDA", "scale": {"domain": ["MLDA", "TCP"], "range": ["#ff0000", "#000000"]}, "legend": {"title": null, "encode": {"labels": {"update": {"fill": {"signal": "datum.value === 'MLDA' ? '#ff0000' : '#000000'"}}}, "symbols": {"update": {"shape": {"signal": "datum.value === 'MLDA' ? 'M-4.3,0H4.3M0,-0.6V0.6' : 'M-4.3,0H4.3'"}, "strokeWidth": {"value": 1}}}}}}}},
    {"data": {"name": "bM"}, "mark": {"type": "point", "shape": "M-1,0H1M0,-1V1", "size": 36, "filled": false, "strokeWidth": 1, "color": "#ff0000", "opacity": 1, "clip": true},
     "encoding": {"x": {"field": "t", "type": "quantitative", "axis": null}, "y": {"field": "v", "type": "quantitative", "axis": null}}},
    {"data": {"name": "bT"}, "mark": {"type": "line", "strokeWidth": 1, "clip": true},
     "encoding": {"x": {"field": "t", "type": "quantitative", "axis": {"orient": "top", "labels": false, "title": null, "values": [0, 200, 400, 600, 800]}},
      "y": {"field": "v", "type": "quantitative", "axis": {"orient": "right", "labels": false, "title": null, "values": [0, 500, 1000, 1500, 2000, 2500, 3000]}},
      "color": {"datum": "TCP"}}}
   ]}
 ], "spacing": 75, "resolve": {"scale": {"color": "independent"}}},
 {"hconcat": [
  {"width": 214, "height": 159, "title": {"text": "(c) Router 3", "dx": 4},
   "resolve": {"axis": {"x": "independent", "y": "independent"}},
   "layer": [
    {"data": {"name": "cM"}, "mark": {"type": "line", "strokeWidth": 1, "clip": true},
     "encoding": {"x": {"field": "t", "type": "quantitative", "scale": {"domain": [0, 900], "nice": false, "zero": false}, "axis": {"values": [0, 200, 400, 600, 800], "title": "Time"}},
      "y": {"field": "v", "type": "quantitative", "scale": {"domain": [0, 3500], "nice": false}, "axis": {"values": [0, 500, 1000, 1500, 2000, 2500, 3000, 3500], "title": "Rate (kb/s)"}},
      "color": {"datum": "MLDA", "scale": {"domain": ["MLDA", "TCP"], "range": ["#ff0000", "#000000"]}, "legend": {"title": null, "encode": {"labels": {"update": {"fill": {"signal": "datum.value === 'MLDA' ? '#ff0000' : '#000000'"}}}, "symbols": {"update": {"shape": {"signal": "datum.value === 'MLDA' ? 'M-4.3,0H4.3M0,-0.6V0.6' : 'M-4.3,0H4.3'"}, "strokeWidth": {"value": 1}}}}}}}},
    {"data": {"name": "cM"}, "mark": {"type": "point", "shape": "M-1,0H1M0,-1V1", "size": 36, "filled": false, "strokeWidth": 1, "color": "#ff0000", "opacity": 1, "clip": true},
     "encoding": {"x": {"field": "t", "type": "quantitative", "axis": null}, "y": {"field": "v", "type": "quantitative", "axis": null}}},
    {"data": {"name": "cT"}, "mark": {"type": "line", "strokeWidth": 1, "clip": true},
     "encoding": {"x": {"field": "t", "type": "quantitative", "axis": {"orient": "top", "labels": false, "title": null, "values": [0, 200, 400, 600, 800]}},
      "y": {"field": "v", "type": "quantitative", "axis": {"orient": "right", "labels": false, "title": null, "values": [0, 500, 1000, 1500, 2000, 2500, 3000, 3500]}},
      "color": {"datum": "TCP"}}}
   ]},
  {"width": 214, "height": 159, "title": {"text": "(d) Router 4", "dx": 0},
   "resolve": {"axis": {"x": "independent", "y": "independent"}},
   "layer": [
    {"data": {"name": "dM"}, "mark": {"type": "line", "strokeWidth": 1, "clip": true},
     "encoding": {"x": {"field": "t", "type": "quantitative", "scale": {"domain": [0, 900], "nice": false, "zero": false}, "axis": {"values": [0, 200, 400, 600, 800], "title": "Time"}},
      "y": {"field": "v", "type": "quantitative", "scale": {"domain": [0, 4000], "nice": false}, "axis": {"values": [0, 500, 1000, 1500, 2000, 2500, 3000, 3500, 4000], "title": "Rate (kb/s)"}},
      "color": {"datum": "MLDA", "scale": {"domain": ["MLDA", "TCP"], "range": ["#ff0000", "#000000"]}, "legend": {"title": null, "encode": {"labels": {"update": {"fill": {"signal": "datum.value === 'MLDA' ? '#ff0000' : '#000000'"}}}, "symbols": {"update": {"shape": {"signal": "datum.value === 'MLDA' ? 'M-4.3,0H4.3M0,-0.6V0.6' : 'M-4.3,0H4.3'"}, "strokeWidth": {"value": 1}}}}}}}},
    {"data": {"name": "dM"}, "mark": {"type": "point", "shape": "M-1,0H1M0,-1V1", "size": 36, "filled": false, "strokeWidth": 1, "color": "#ff0000", "opacity": 1, "clip": true},
     "encoding": {"x": {"field": "t", "type": "quantitative", "axis": null}, "y": {"field": "v", "type": "quantitative", "axis": null}}},
    {"data": {"name": "dT"}, "mark": {"type": "line", "strokeWidth": 1, "clip": true},
     "encoding": {"x": {"field": "t", "type": "quantitative", "axis": {"orient": "top", "labels": false, "title": null, "values": [0, 200, 400, 600, 800]}},
      "y": {"field": "v", "type": "quantitative", "axis": {"orient": "right", "labels": false, "title": null, "values": [0, 500, 1000, 1500, 2000, 2500, 3000, 3500, 4000]}},
      "color": {"datum": "TCP"}}}
   ]}
 ], "spacing": 46, "resolve": {"scale": {"color": "independent"}}},
 {"hconcat": [
  {"width": 214, "height": 159, "title": {"text": "(e) Router 5", "dx": 4},
   "resolve": {"axis": {"x": "independent", "y": "independent"}},
   "layer": [
    {"data": {"name": "eM"}, "mark": {"type": "line", "strokeWidth": 1, "clip": true},
     "encoding": {"x": {"field": "t", "type": "quantitative", "scale": {"domain": [0, 900], "nice": false, "zero": false}, "axis": {"values": [0, 200, 400, 600, 800], "title": "Time"}},
      "y": {"field": "v", "type": "quantitative", "scale": {"domain": [0, 4500], "nice": false}, "axis": {"values": [0, 500, 1000, 1500, 2000, 2500, 3000, 3500, 4000, 4500], "title": "Rate (kb/s)"}},
      "color": {"datum": "MLDA", "scale": {"domain": ["MLDA", "TCP"], "range": ["#ff0000", "#000000"]}, "legend": {"title": null, "encode": {"labels": {"update": {"fill": {"signal": "datum.value === 'MLDA' ? '#ff0000' : '#000000'"}}}, "symbols": {"update": {"shape": {"signal": "datum.value === 'MLDA' ? 'M-4.3,0H4.3M0,-0.6V0.6' : 'M-4.3,0H4.3'"}, "strokeWidth": {"value": 1}}}}}}}},
    {"data": {"name": "eM"}, "mark": {"type": "point", "shape": "M-1,0H1M0,-1V1", "size": 36, "filled": false, "strokeWidth": 1, "color": "#ff0000", "opacity": 1, "clip": true},
     "encoding": {"x": {"field": "t", "type": "quantitative", "axis": null}, "y": {"field": "v", "type": "quantitative", "axis": null}}},
    {"data": {"name": "eT"}, "mark": {"type": "line", "strokeWidth": 1, "clip": true},
     "encoding": {"x": {"field": "t", "type": "quantitative", "axis": {"orient": "top", "labels": false, "title": null, "values": [0, 200, 400, 600, 800]}},
      "y": {"field": "v", "type": "quantitative", "axis": {"orient": "right", "labels": false, "title": null, "values": [0, 500, 1000, 1500, 2000, 2500, 3000, 3500, 4000, 4500]}},
      "color": {"datum": "TCP"}}}
   ]},
  {"width": 214, "height": 159, "title": {"text": "(f) Router 6", "dx": 0},
   "resolve": {"axis": {"x": "independent", "y": "independent"}},
   "layer": [
    {"data": {"name": "fM"}, "mark": {"type": "line", "strokeWidth": 1, "clip": true},
     "encoding": {"x": {"field": "t", "type": "quantitative", "scale": {"domain": [0, 900], "nice": false, "zero": false}, "axis": {"values": [0, 200, 400, 600, 800], "title": "Time"}},
      "y": {"field": "v", "type": "quantitative", "scale": {"domain": [0, 5000], "nice": false}, "axis": {"values": [0, 500, 1000, 1500, 2000, 2500, 3000, 3500, 4000, 4500, 5000], "title": "Rate (kb/s)"}},
      "color": {"datum": "MLDA", "scale": {"domain": ["MLDA", "TCP"], "range": ["#ff0000", "#000000"]}, "legend": {"title": null, "encode": {"labels": {"update": {"fill": {"signal": "datum.value === 'MLDA' ? '#ff0000' : '#000000'"}}}, "symbols": {"update": {"shape": {"signal": "datum.value === 'MLDA' ? 'M-4.3,0H4.3M0,-0.6V0.6' : 'M-4.3,0H4.3'"}, "strokeWidth": {"value": 1}}}}}}}},
    {"data": {"name": "fM"}, "mark": {"type": "point", "shape": "M-1,0H1M0,-1V1", "size": 36, "filled": false, "strokeWidth": 1, "color": "#ff0000", "opacity": 1, "clip": true},
     "encoding": {"x": {"field": "t", "type": "quantitative", "axis": null}, "y": {"field": "v", "type": "quantitative", "axis": null}}},
    {"data": {"name": "fT"}, "mark": {"type": "line", "strokeWidth": 1, "clip": true},
     "encoding": {"x": {"field": "t", "type": "quantitative", "axis": {"orient": "top", "labels": false, "title": null, "values": [0, 200, 400, 600, 800]}},
      "y": {"field": "v", "type": "quantitative", "axis": {"orient": "right", "labels": false, "title": null, "values": [0, 500, 1000, 1500, 2000, 2500, 3000, 3500, 4000, 4500, 5000]}},
      "color": {"datum": "TCP"}}}
   ]}
 ], "spacing": 47, "resolve": {"scale": {"color": "independent"}}}
],
"spacing": 64,
"center": true,
"resolve": {"scale": {"color": "independent"}}
}
